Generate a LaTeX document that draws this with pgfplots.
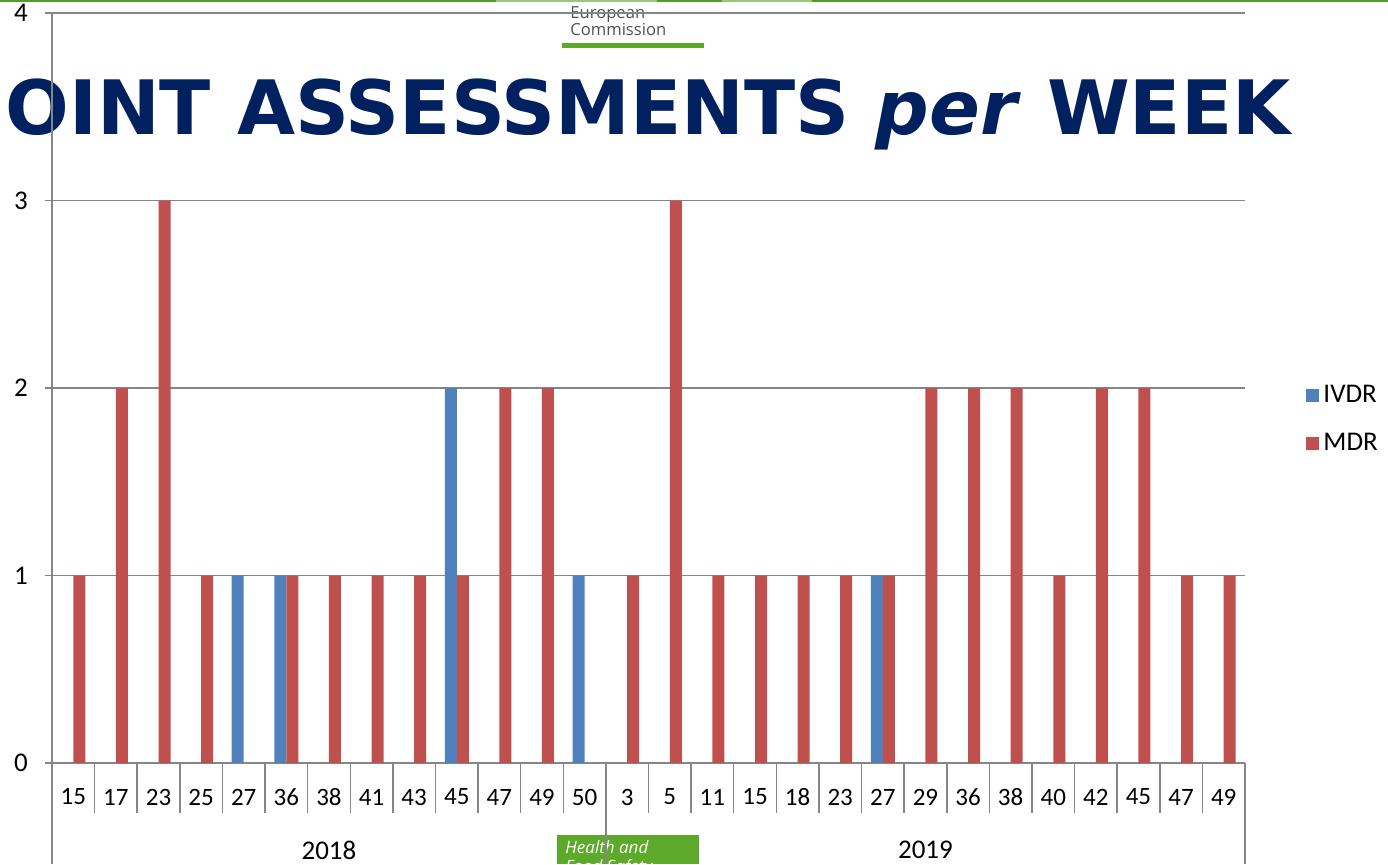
\documentclass[border=0pt]{standalone}
\usepackage{fontspec}
\setmainfont{Carlito}
\newfontfamily\titlefont{DejaVu Sans}
\newfontfamily\ecfont{Open Sans}
\usepackage{graphicx}
\usepackage{pgfplots}
\pgfplotsset{compat=1.18}
\definecolor{ivdr}{HTML}{4F81BD}
\definecolor{mdr}{HTML}{C0504D}
\definecolor{gridgray}{HTML}{868686}
\definecolor{navy}{HTML}{002060}
\definecolor{ecgreen}{HTML}{5DA92A}
\definecolor{darkgreen}{HTML}{4E9A2A}
\definecolor{lightgreen}{HTML}{9CC57D}
\definecolor{ecgray}{HTML}{505050}
\newcommand{\lbl}{\fontsize{13.5}{16}\selectfont}
\newcommand{\xlbl}{\fontsize{12.5}{15}\selectfont}
\begin{document}
\begin{tikzpicture}
\useasboundingbox (0,0) rectangle (694pt,432pt);
\clip (0,0) rectangle (694pt,432pt);
% top line
\fill[darkgreen] (0,431pt) rectangle (248pt,432pt);
\fill[lightgreen] (248pt,431pt) rectangle (328.5pt,432pt);
\fill[darkgreen] (328.5pt,431pt) rectangle (361pt,432pt);
\fill[lightgreen] (361pt,431pt) rectangle (406pt,432pt);
\fill[darkgreen] (406pt,431pt) rectangle (694pt,432pt);
% EC logo
\node[anchor=base west,inner sep=0,font=\ecfont\fontsize{8.3}{9}\selectfont,text=ecgray] at (285pt,422.5pt) {European};
\node[anchor=base west,inner sep=0,font=\ecfont\fontsize{8.3}{9}\selectfont,text=ecgray] at (285pt,414pt) {Commission};
\fill[ecgreen] (281pt,408pt) rectangle (352pt,410.5pt);
% Health box
\fill[ecgreen] (278.5pt,0) rectangle (349.5pt,14.5pt);
\node[anchor=base west,inner sep=0,font=\ecfont\itshape\fontsize{8.5}{10}\selectfont,text=white] at (282.5pt,5.5pt) {Health and};
\node[anchor=base west,inner sep=0,font=\ecfont\itshape\fontsize{8.5}{10}\selectfont,text=white] at (282.5pt,-4pt) {Food Safety};
% title
\node[anchor=base west,inner sep=0,text=navy] at (2.5pt,364.5pt) {\resizebox{642.5pt}{!}{\titlefont\bfseries\fontsize{41}{45}\selectfont OINT ASSESSMENTS \textit{per} WEEK}};
\begin{axis}[
  at={(26pt,50.5pt)}, anchor=south west,
  scale only axis, width=596.5pt, height=375pt,
  xmin=-0.5, xmax=27.5, ymin=0, ymax=4,
  ybar, bar width=6pt,
  axis x line=bottom, axis y line=left,
  axis line style={draw=gridgray, line width=0.75pt, -},
  ymajorgrids, grid style={draw=gridgray, line width=0.75pt},
  ytick={0,1,2,3,4},
  ytick style={draw=gridgray, line width=0.75pt},
  yticklabel style={font=\lbl, xshift=-5pt},
  /pgf/number format/assume math mode=true,
  xtick={0,...,27},
  xticklabels={15,17,23,25,27,36,38,41,43,45,47,49,50,3,5,11,15,18,23,27,29,36,38,40,42,45,47,49},
  xtick style={draw=none},
  xticklabel style={font=\xlbl, anchor=center, yshift=-13.5pt},
  minor xtick={-0.5,0.5,...,27.5},
  minor x tick style={draw=gridgray, line width=0.75pt},
  major tick length=3.5pt, minor tick length=25pt, tick align=outside,
  legend style={at={(1.046,0.458)}, anchor=west, draw=none, fill=none, font=\lbl, row sep=10pt},
  legend cell align=left,
  clip=false,
]
\addplot[fill=ivdr, draw=none, bar shift=-3pt, legend image code/.code={\fill[ivdr] (0pt,-3.3pt) rectangle (6.6pt,3.3pt);}]
  coordinates {(4,1) (5,1) (9,2) (12,1) (19,1)};
\addlegendentry{IVDR}
\addplot[fill=mdr, draw=none, bar shift=3pt, legend image code/.code={\fill[mdr] (0pt,-3.3pt) rectangle (6.6pt,3.3pt);}]
  coordinates {(0,1) (1,2) (2,3) (3,1) (5,1) (6,1) (7,1) (8,1) (9,1) (10,2) (11,2)
   (13,1) (14,3) (15,1) (16,1) (17,1) (18,1) (19,1) (20,2) (21,2) (22,2) (23,1)
   (24,2) (25,2) (26,1) (27,1)};
\addlegendentry{MDR}
\draw[gridgray, line width=0.75pt] (axis cs:-0.5,0) -- ([yshift=-50.5pt]axis cs:-0.5,0);
\draw[gridgray, line width=0.75pt] (axis cs:12.5,0) -- ([yshift=-50.5pt]axis cs:12.5,0);
\draw[gridgray, line width=0.75pt] (axis cs:27.5,0) -- ([yshift=-50.5pt]axis cs:27.5,0);
\node[font=\lbl] at (axis cs:6,0) [yshift=-43.5pt] {2018};
\node[font=\lbl] at (axis cs:20,0) [yshift=-43.5pt] {2019};
\end{axis}
\end{tikzpicture}
\end{document}
